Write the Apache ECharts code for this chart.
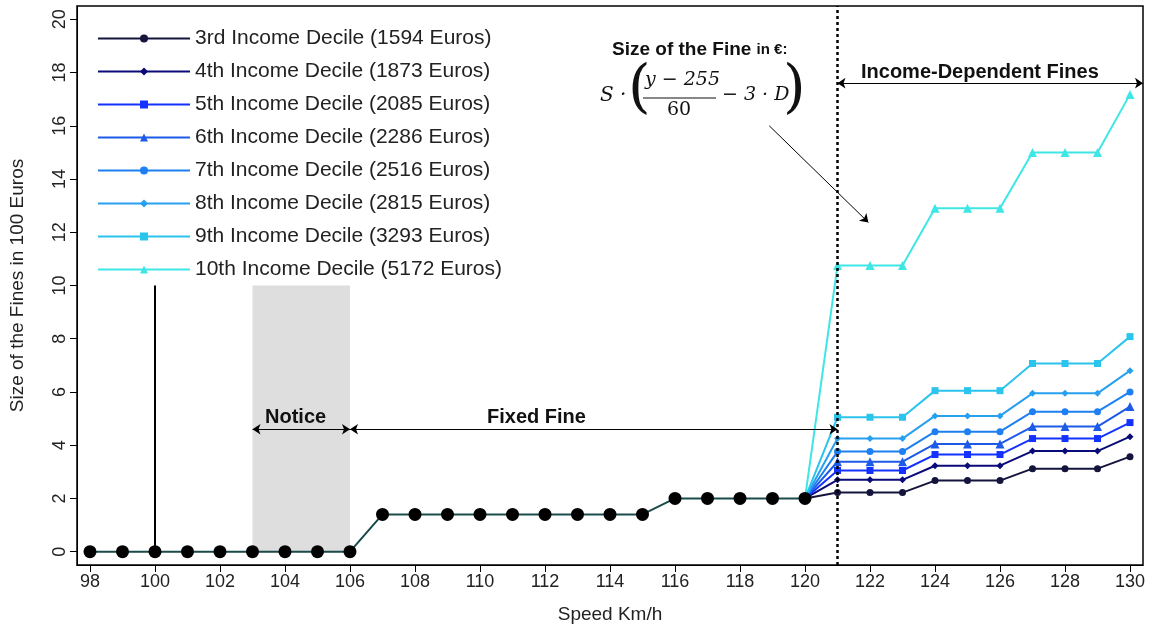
<!DOCTYPE html>
<html><head><meta charset="utf-8">
<script src="https://cdn.jsdelivr.net/npm/echarts@6/dist/echarts.min.js"></script>
<style>html,body{margin:0;background:#fff}#c{width:1159px;height:632px}</style>
</head><body><div id="c"></div>
<script>
var fixedSpeeds = [98,99,100,101,102,103,104,105,106,107,108,109,110,111,112,113,114,115,116,117,118,119,120];
var fixedFine = [0,0,0,0,0,0,0,0,0,1.4,1.4,1.4,1.4,1.4,1.4,1.4,1.4,1.4,2,2,2,2,2];
var tailSpeeds = [120,121,122,123,124,125,126,127,128,129,130];
var deciles = ['3rd Income Decile (1594 Euros)','4th Income Decile (1873 Euros)','5th Income Decile (2085 Euros)','6th Income Decile (2286 Euros)','7th Income Decile (2516 Euros)','8th Income Decile (2815 Euros)','9th Income Decile (3293 Euros)','10th Income Decile (5172 Euros)'];
var d3 = [2,2.22,2.22,2.22,2.67,2.67,2.67,3.12,3.12,3.12,3.57];
var d4 = [2,2.7,2.7,2.7,3.23,3.23,3.23,3.78,3.78,3.78,4.32];
var d5 = [2,3.05,3.05,3.05,3.65,3.65,3.65,4.25,4.25,4.25,4.85];
var d6 = [2,3.38,3.38,3.38,4.05,4.05,4.05,4.7,4.7,4.7,5.45];
var d7 = [2,3.76,3.76,3.76,4.51,4.51,4.51,5.26,5.26,5.26,6.0];
var d8 = [2,4.25,4.25,4.25,5.1,5.1,5.1,5.95,5.95,5.95,6.8];
var d9 = [2,5.05,5.05,5.05,6.05,6.05,6.05,7.07,7.07,7.07,8.08];
var d10 = [2,10.75,10.75,10.75,12.9,12.9,12.9,15.0,15.0,15.0,17.18];
var yTicks = [0,2,4,6,8,10,12,14,16,18,20];
var xTicks = [98,100,102,104,106,108,110,112,114,116,118,120,122,124,126,128,130];

var values = [d3,d4,d5,d6,d7,d8,d9,d10];
var colors = ['#14143c','#0a0a78','#1432ff','#1e5ae8','#1e80f0','#28a0f0','#2ac4ec','#3ee6e6'];
var symbols = ['circle','diamond','rect','triangle','circle','diamond','rect','triangle'];

function pairs(xs, ys) { return xs.map(function (x, i) { return [x, ys[i]]; }); }

var series = values.map(function (v, i) {
    return {
        name: deciles[i], type: 'line', data: pairs(tailSpeeds, v),
        symbol: symbols[i], symbolSize: symbols[i] === 'triangle' ? 9 : 7, showSymbol: true,
        itemStyle: {color: colors[i]}, lineStyle: {width: 2, color: colors[i]},
        z: 3, animation: false
    };
});
series.push({
    name: 'fixed', type: 'line', data: pairs(fixedSpeeds, fixedFine),
    symbol: 'circle', symbolSize: 13, itemStyle: {color: '#000'},
    lineStyle: {color: '#1a4a4a', width: 2}, z: 5, animation: false,
    markArea: {silent: true, itemStyle: {color: '#dedede'}, data: [[{coord: [103, 0]}, {coord: [106, 10]}]]},
    markLine: {
        silent: true, symbol: ['none', 'none'], label: {show: false}, animation: false,
        data: [
            [{coord: [100, 0], lineStyle: {color: '#000', width: 2, type: 'solid'}}, {coord: [100, 10]}],
            [{coord: [121, -0.5], lineStyle: {color: '#000', width: 2.5, type: [3, 3]}}, {coord: [121, 20.5]}],
            [{coord: [103, 4.6], symbol: 'arrow', lineStyle: {color: '#000', width: 1, type: 'solid'}}, {coord: [106, 4.6], symbol: 'arrow'}],
            [{coord: [106, 4.6], symbol: 'arrow', lineStyle: {color: '#000', width: 1, type: 'solid'}}, {coord: [121, 4.6], symbol: 'arrow'}],
            [{coord: [121, 17.6], symbol: 'arrow', lineStyle: {color: '#000', width: 1, type: 'solid'}}, {coord: [130.4, 17.6], symbol: 'arrow'}],
            [{coord: [118.9, 16.0], symbol: 'none', lineStyle: {color: '#000', width: 1, type: 'solid'}}, {coord: [121.95, 12.37], symbol: 'arrow'}]
        ],
        symbolSize: 8
    }
});

var myChart = echarts.init(document.getElementById('c'));
var F = 'Liberation Sans, Arial, sans-serif';
myChart.setOption({
    animation: false,
    textStyle: {fontFamily: F},
    grid: {left: 77, right: 16, top: 6, bottom: 67, show: true, borderColor: '#000', borderWidth: 1.5},
    legend: {
        data: deciles, orient: 'vertical', left: 92, top: 23, itemGap: 12, itemWidth: 92, itemHeight: 10,
        textStyle: {fontSize: 21, color: '#222', fontFamily: F}
    },
    xAxis: {
        type: 'value', min: 97.6, max: 130.4,
        name: 'Speed Km/h', nameLocation: 'middle', nameGap: 40,
        nameTextStyle: {fontSize: 19, color: '#222'},
        axisLine: {onZero: false, lineStyle: {color: '#000'}},
        axisTick: {show: true, length: 7, lineStyle: {color: '#000'}, customValues: xTicks},
        axisLabel: {fontSize: 18, color: '#222', customValues: xTicks},
        splitLine: {show: false}
    },
    yAxis: {
        type: 'value', min: -0.5, max: 20.5,
        name: 'Size of the Fines in 100 Euros', nameLocation: 'middle', nameGap: 50,
        nameTextStyle: {fontSize: 19, color: '#222'},
        axisLine: {show: true, lineStyle: {color: '#000'}},
        axisTick: {show: true, length: 7, lineStyle: {color: '#000'}, customValues: yTicks},
        axisLabel: {fontSize: 18, color: '#222', rotate: 90, customValues: yTicks},
        splitLine: {show: false}
    },
    graphic: [
        {type: 'text', z: 100, left: 265, top: 407, style: {text: 'Notice', font: 'bold 20px ' + F, fill: '#111'}},
        {type: 'text', z: 100, left: 487, top: 407, style: {text: 'Fixed Fine', font: 'bold 20px ' + F, fill: '#111'}},
        {type: 'text', z: 100, left: 861, top: 62, style: {text: 'Income-Dependent Fines', font: 'bold 20px ' + F, fill: '#111'}},
        {type: 'text', z: 100, left: 612, top: 40, style: {
            text: '{a|Size of the Fine }{b|in €:}',
            rich: {a: {font: 'bold 19px ' + F, fill: '#111'}, b: {font: 'bold 15px ' + F, fill: '#111'}}}},
        {type: 'text', z: 100, left: 600, top: 86, style: {text: 'S ·', font: 'italic 20px DejaVu Serif, serif', fill: '#111'}},
        {type: 'text', z: 100, left: 628, top: 62, style: {text: '(', font: '58px DejaVu Serif, serif', fill: '#111'}},
        {type: 'text', z: 100, left: 645, top: 71, style: {text: 'y − 255', font: 'italic 19px DejaVu Serif, serif', fill: '#111'}},
        {type: 'line', z: 100, shape: {x1: 643, y1: 98, x2: 716, y2: 98}, style: {stroke: '#111', lineWidth: 1.2}},
        {type: 'text', z: 100, left: 667, top: 101, style: {text: '60', font: '19px DejaVu Serif, serif', fill: '#111'}},
        {type: 'text', z: 100, left: 722, top: 86, style: {text: '− 3 · D', font: 'italic 19px DejaVu Serif, serif', fill: '#111'}},
        {type: 'text', z: 100, left: 783, top: 62, style: {text: ')', font: '58px DejaVu Serif, serif', fill: '#111'}}
    ],
    series: series
});
</script></body></html>
